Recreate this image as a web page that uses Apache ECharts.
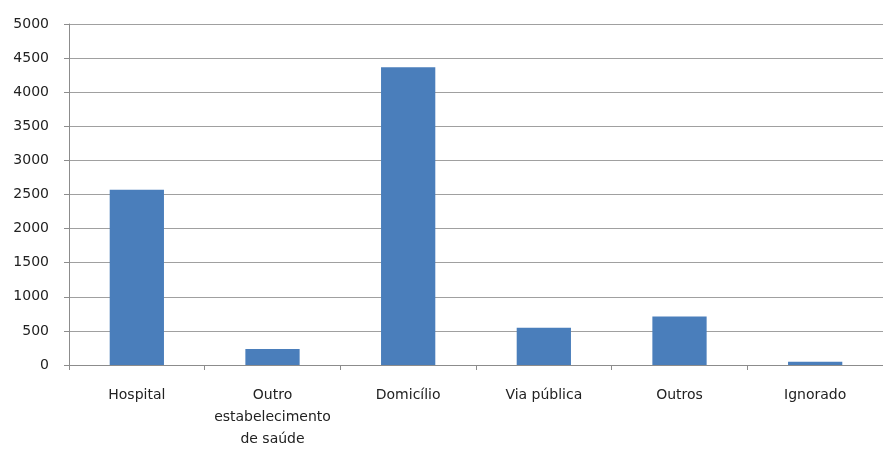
<!DOCTYPE html>
<html>
<head>
<meta charset="utf-8">
<script src="https://cdn.jsdelivr.net/npm/echarts@6/dist/echarts.min.js"></script>
<style>
  html, body { margin: 0; padding: 0; background: #fff; }
  #chart { width: 883px; height: 450px; }
</style>
</head>
<body>
<div id="chart"></div>
<script>
// 数据
const categories = ['Hospital', 'Outro\nestabelecimento\nde saúde', 'Domicílio', 'Via pública', 'Outros', 'Ignorado'];
const values = [2570, 234, 4365, 546, 711, 46];
const yMin = 0;
const yMax = 5000;
const yStep = 500;

const chart = echarts.init(document.getElementById('chart'));

const option = {
  animation: false,
  backgroundColor: '#ffffff',
  grid: {
    left: 69,
    right: -11,
    top: 24,
    bottom: 80,
    containLabel: false
  },
  xAxis: {
    type: 'category',
    data: categories,
    axisLine: { lineStyle: { color: '#8c8c8c', width: 1 } },
    axisTick: { show: true, length: 5, alignWithLabel: false, lineStyle: { color: '#8c8c8c' } },
    axisLabel: {
      color: '#222',
      fontFamily: 'DejaVu Sans',
      fontSize: 14,
      margin: 19,
      lineHeight: 22,
      interval: 0
    }
  },
  yAxis: {
    type: 'value',
    min: yMin,
    max: yMax,
    interval: yStep,
    axisLine: { show: true, lineStyle: { color: '#8c8c8c', width: 1 } },
    axisTick: { show: true, length: 5, lineStyle: { color: '#8c8c8c' } },
    splitLine: { lineStyle: { color: '#a0a0a0', width: 1 } },
    axisLabel: {
      color: '#222',
      fontFamily: 'DejaVu Sans',
      fontSize: 14,
      margin: 20,
      formatter: (v) => String(v)  // 不要千位分隔符
    }
  },
  series: [{
    type: 'bar',
    data: values,
    barWidth: '40%',
    itemStyle: { color: '#4a7ebb' }
  }]
};

chart.setOption(option);
</script>
</body>
</html>
